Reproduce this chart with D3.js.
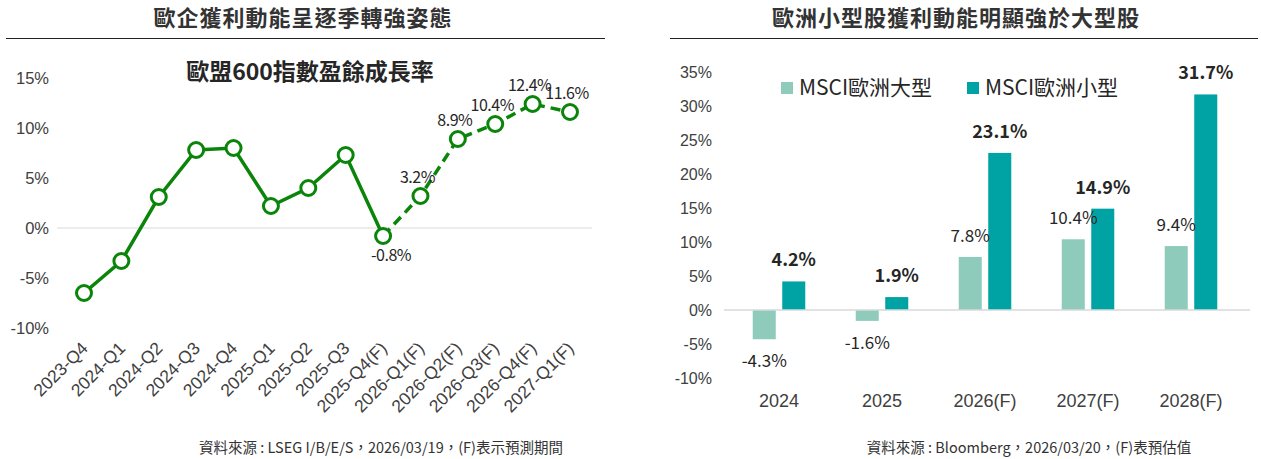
<!DOCTYPE html>
<html>
<head>
<meta charset="utf-8">
<script src="https://cdn.jsdelivr.net/npm/d3@7"></script>
<style>
  body { margin: 0; background: #fff; }
  svg { font-family: "Noto Sans CJK TC", "Noto Sans", sans-serif; }
</style>
</head>
<body>
<svg id="chart" width="1261" height="459"></svg>
<script>
// left chart: STOXX 600 earnings growth by quarter
const quarters = ["2023-Q4", "2024-Q1", "2024-Q2", "2024-Q3", "2024-Q4", "2025-Q1", "2025-Q2",
    "2025-Q3", "2025-Q4(F)", "2026-Q1(F)", "2026-Q2(F)", "2026-Q3(F)", "2026-Q4(F)", "2027-Q1(F)"];
const growth = [-6.5, -3.3, 3.1, 7.8, 8.0, 2.2, 4.0, 7.3, -0.8, 3.2, 8.9, 10.4, 12.4, 11.6];
const forecastFrom = 8; // first (F) quarter
const leftTicks = [-10, -5, 0, 5, 10, 15];

// right chart: MSCI Europe large vs small cap
const years = ["2024", "2025", "2026(F)", "2027(F)", "2028(F)"];
const seriesNames = ["MSCI歐洲大型", "MSCI歐洲小型"];
const largeCap = [-4.3, -1.6, 7.8, 10.4, 9.4];
const smallCap = [4.2, 1.9, 23.1, 14.9, 31.7];
const rightTicks = [-10, -5, 0, 5, 10, 15, 20, 25, 30, 35];

const green = "#0a850a";
const colors = ["#8ecbbb", "#00a3a3"];
const text_color = "#404040";

const svg = d3.select("#chart");

function header(cx, x1, x2, title) {
    svg.append("text")
        .attr("x", cx)
        .attr("y", 26)
        .attr("text-anchor", "middle")
        .style("font-size", "22px")
        .style("font-weight", "bold")
        .style("letter-spacing", "1px")
        .attr("fill", "#333")
        .text(title);
    svg.append("line")
        .attr("x1", x1).attr("x2", x2)
        .attr("y1", 38.5).attr("y2", 38.5)
        .attr("stroke", "#222")
        .attr("stroke-width", 1.2);
}

function source(cx, txt) {
    svg.append("text")
        .attr("x", cx)
        .attr("y", 453)
        .attr("text-anchor", "middle")
        .style("font-size", "14.5px")
        .attr("fill", "#333")
        .text(txt);
}

// ---------- left ----------
header(303, 6, 605, "歐企獲利動能呈逐季轉強姿態");

svg.append("text")
    .attr("x", 310)
    .attr("y", 80)
    .attr("text-anchor", "middle")
    .style("font-size", "23px")
    .style("font-weight", "bold")
    .attr("fill", "#262626")
    .text("歐盟600指數盈餘成長率");

const xL = d3.scalePoint().domain(quarters).range([84, 570]);
const yL = d3.scaleLinear().domain([-10, 15]).range([328, 78]);

const gyL = svg.append("g")
    .attr("transform", "translate(49,0)")
    .call(d3.axisLeft(yL).tickValues(leftTicks).tickSize(0).tickPadding(0).tickFormat(d => d + "%"));
gyL.select(".domain").remove();
gyL.selectAll("text").style("font-size", "16.5px").attr("fill", text_color);

svg.append("line")
    .attr("x1", 57).attr("x2", 592)
    .attr("y1", yL(0)).attr("y2", yL(0))
    .attr("stroke", "#d9d9d9");

const gxL = svg.append("g")
    .attr("transform", "translate(0,342)")
    .call(d3.axisBottom(xL).tickSize(0).tickPadding(0));
gxL.select(".domain").remove();
gxL.selectAll("text")
    .style("font-size", "17.5px")
    .attr("fill", text_color)
    .attr("text-anchor", "end")
    .attr("dy", "0.6em")
    .attr("transform", "translate(-3,0) rotate(-45)");

const pts = quarters.map((q, i) => ({ q: q, v: growth[i], i: i }));
const line = d3.line().x(d => xL(d.q)).y(d => yL(d.v));

svg.append("path")
    .datum(pts.slice(0, forecastFrom + 1))
    .attr("d", line)
    .attr("fill", "none")
    .attr("stroke", green)
    .attr("stroke-width", 3.5);

svg.append("path")
    .datum(pts.slice(forecastFrom))
    .attr("d", line)
    .attr("fill", "none")
    .attr("stroke", green)
    .attr("stroke-width", 3.5)
    .attr("stroke-dasharray", "10,6");

svg.append("g").selectAll("circle")
    .data(pts)
    .join("circle")
    .attr("cx", d => xL(d.q))
    .attr("cy", d => yL(d.v))
    .attr("r", 7.5)
    .attr("fill", "white")
    .attr("stroke", green)
    .attr("stroke-width", 3);

svg.append("g").selectAll("text")
    .data(pts.filter(d => d.i >= forecastFrom))
    .join("text")
    .attr("x", d => xL(d.q) + (d.v < 0 ? 8 : -3))
    .attr("y", d => yL(d.v) + (d.v < 0 ? 25 : -13))
    .attr("text-anchor", "middle")
    .style("font-size", "16px")
    .style("letter-spacing", "-0.5px")
    .attr("fill", "#262626")
    .text(d => d.v.toFixed(1) + "%");

source(381, "資料來源 : LSEG I/B/E/S，2026/03/19，(F)表示預測期間");

// ---------- right ----------
header(956, 670, 1258, "歐洲小型股獲利動能明顯強於大型股");

const x0 = d3.scaleBand().domain(years).range([727.5, 1242.5]).paddingInner(0.49).paddingOuter(0.245);
const x1 = d3.scaleBand().domain([0, 1]).range([0, x0.bandwidth()]).paddingInner(0.22);
const yR = d3.scaleLinear().domain([-10, 35]).range([378, 72]);

const gyR = svg.append("g")
    .attr("transform", "translate(712,0)")
    .call(d3.axisLeft(yR).tickValues(rightTicks).tickSize(0).tickPadding(0).tickFormat(d => d + "%"));
gyR.select(".domain").remove();
gyR.selectAll("text").style("font-size", "16px").attr("fill", text_color);

const gxR = svg.append("g")
    .attr("transform", "translate(0,394)")
    .call(d3.axisBottom(x0).tickSize(0).tickPadding(0));
gxR.select(".domain").remove();
gxR.selectAll("text").style("font-size", "18px").attr("fill", text_color);

const bars = [];
years.forEach((y, i) => {
    bars.push({ year: y, s: 0, v: largeCap[i] });
    bars.push({ year: y, s: 1, v: smallCap[i] });
});

svg.append("g").selectAll("rect")
    .data(bars)
    .join("rect")
    .attr("x", d => x0(d.year) + x1(d.s))
    .attr("width", x1.bandwidth())
    .attr("y", d => yR(Math.max(0, d.v)))
    .attr("height", d => Math.abs(yR(d.v) - yR(0)))
    .attr("fill", d => colors[d.s]);

svg.append("line")
    .attr("x1", 724).attr("x2", 1250)
    .attr("y1", yR(0)).attr("y2", yR(0))
    .attr("stroke", "#d9d9d9")
    .attr("stroke-width", 1.5);

svg.append("g").selectAll("text")
    .data(bars)
    .join("text")
    .attr("x", d => x0(d.year) + x1(d.s) + x1.bandwidth() / 2)
    .attr("y", d => d.v < 0 ? yR(d.v) + 28 : yR(d.v) - 15)
    .attr("text-anchor", "middle")
    .style("font-size", d => d.s ? "18px" : "17px")
    .style("font-weight", d => d.s ? "bold" : "normal")
    .attr("fill", "#262626")
    .text(d => d.v.toFixed(1) + "%");

// legend
const legend = svg.append("g");
const legendX = [781, 967];
seriesNames.forEach((name, i) => {
    legend.append("rect")
        .attr("x", legendX[i])
        .attr("y", 82)
        .attr("width", 12)
        .attr("height", 12)
        .attr("fill", colors[i]);
    legend.append("text")
        .attr("x", legendX[i] + 18)
        .attr("y", 95)
        .style("font-size", "21px")
        .attr("fill", "#262626")
        .text(name);
});

source(1029, "資料來源 : Bloomberg，2026/03/20，(F)表預估值");
</script>
</body>
</html>
